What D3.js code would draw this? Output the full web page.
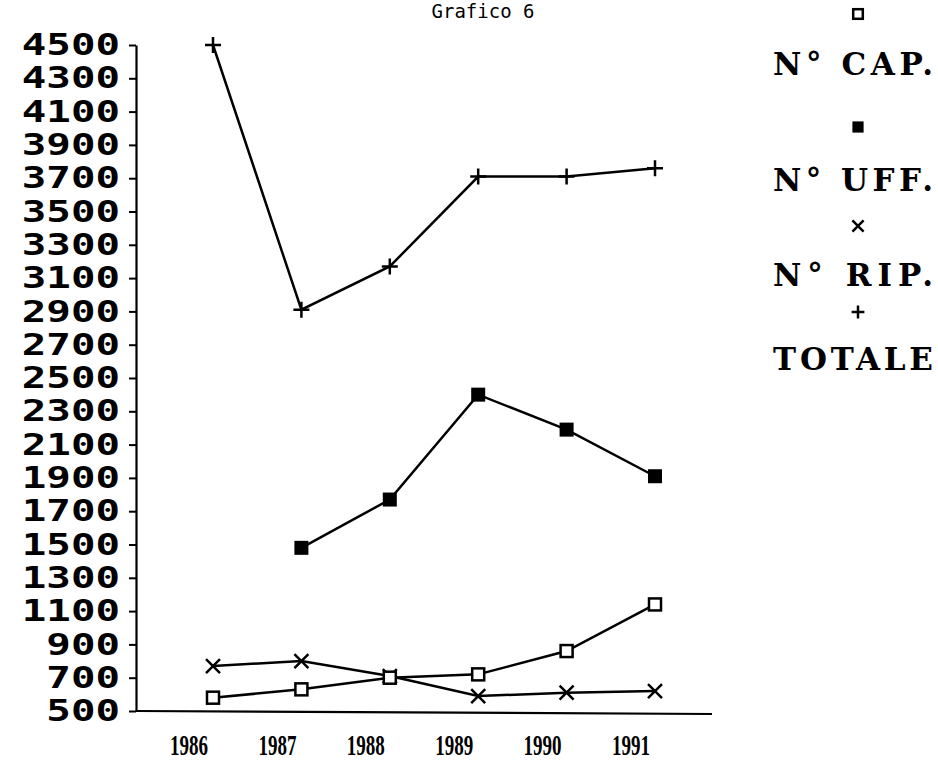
<!DOCTYPE html>
<html>
<head>
<meta charset="utf-8">
<script src="https://cdn.jsdelivr.net/npm/d3@7"></script>
<style>
  body { margin: 0; background: #fff; }
  svg { display: block; }
</style>
</head>
<body>
<div class="chart-container"></div>
<script>
// The data
const years = ["1986", "1987", "1988", "1989", "1990", "1991"];
const cap = [580, 630, 700, 720, 860, 1140];
const uff = [null, 1480, 1770, 2400, 2190, 1910];
const rip = [770, 800, 710, 590, 610, 620];
const totale = [4500, 2910, 3170, 3710, 3710, 3760];
const yTicks = d3.range(500, 4501, 200);
const legendLabels = ["N\u00B0 CAP.", "N\u00B0 UFF.", "N\u00B0 RIP.", "TOTALE"];

let svg = d3.select(".chart-container").append("svg").attr("width", 938).attr("height", 761);

// scales
let x = d3.scalePoint().domain(years).range([213, 655]);
let y = d3.scaleLinear().domain([500, 4500]).range([711, 45]);

// title
svg.append("text")
  .attr("x", 483).attr("y", 18)
  .attr("text-anchor", "middle")
  .style("font-family", "DejaVu Sans Mono")
  .style("font-size", "19px")
  .text("Grafico 6");

// y axis
let yAxis = svg.append("g")
  .attr("transform", "translate(136,0)")
  .call(d3.axisLeft(y).tickValues(yTicks).tickSize(7).tickSizeOuter(0).tickFormat(d3.format("d")));
yAxis.select(".domain").attr("stroke-width", 2.2);
yAxis.selectAll(".tick line").attr("stroke-width", 2);
yAxis.selectAll(".tick text")
  .attr("x", -16 / 1.36)
  .attr("transform", "scale(1.36,1)")
  .style("font-family", "DejaVu Sans Mono")
  .style("font-weight", "bold")
  .style("font-size", "30px");

// x baseline
svg.append("line")
  .attr("x1", 136).attr("x2", 712)
  .attr("y1", y(500)).attr("y2", y(500) + 3)
  .attr("stroke", "black").attr("stroke-width", 2.2);

// x labels
svg.append("g").selectAll("text")
  .data(years)
  .enter()
  .append("text")
  .attr("x", d => x(d) - 24)
  .attr("y", 755)
  .attr("text-anchor", "middle")
  .style("font-family", "Liberation Serif")
  .style("font-weight", "bold")
  .style("font-size", "30px")
  .attr("textLength", 38)
  .attr("lengthAdjust", "spacingAndGlyphs")
  .text(d => d);

// markers
function marker(type, g, k) {
  k = k || 1;
  if (type === "cap") {
    g.append("rect").attr("x", -6 * k).attr("y", -6 * k).attr("width", 12 * k).attr("height", 12 * k)
      .attr("fill", "white").attr("stroke", "black").attr("stroke-width", 2.5);
  } else if (type === "uff") {
    g.append("rect").attr("x", -7 * k).attr("y", -7 * k).attr("width", 14 * k).attr("height", 14 * k)
      .attr("fill", "black");
  } else if (type === "rip") {
    g.append("path").attr("d", "M" + (-7 * k) + "," + (-7 * k) + "L" + (7 * k) + "," + (7 * k) + "M" + (-7 * k) + "," + (7 * k) + "L" + (7 * k) + "," + (-7 * k))
      .attr("stroke", "black").attr("stroke-width", 2.5);
  } else {
    g.append("path").attr("d", "M" + (-8 * k) + ",0L" + (8 * k) + ",0M0," + (-8 * k) + "L0," + (8 * k))
      .attr("stroke", "black").attr("stroke-width", 2.5);
  }
}

let series = [
  { key: "rip", values: rip },
  { key: "cap", values: cap },
  { key: "uff", values: uff },
  { key: "tot", values: totale }
];

let line = d3.line()
  .defined(d => d.v != null)
  .x(d => x(d.year))
  .y(d => y(d.v));

series.forEach(s => {
  let pts = years.map((yr, i) => ({ year: yr, v: s.values[i] }));
  svg.append("path")
    .datum(pts)
    .attr("d", line)
    .attr("fill", "none")
    .attr("stroke", "black")
    .attr("stroke-width", 2.5);
  svg.append("g").selectAll("g")
    .data(pts.filter(d => d.v != null))
    .enter()
    .append("g")
    .attr("transform", d => "translate(" + x(d.year) + "," + y(d.v) + ")")
    .each(function () { marker(s.key, d3.select(this)); });
});

// legend
let legendKeys = ["cap", "uff", "rip", "tot"];
let legendSymY = [14, 127, 226, 312];
let legendTextY = [75, 191, 286, 370];
legendKeys.forEach((k, i) => {
  let g = svg.append("g").attr("transform", "translate(858," + legendSymY[i] + ")");
  marker(k, g, 0.8);
  svg.append("text")
    .attr("x", 853).attr("y", legendTextY[i])
    .attr("text-anchor", "middle")
    .style("font-family", "DejaVu Serif")
    .style("font-weight", "bold")
    .style("font-size", "31px")
    .attr("textLength", 160)
    .attr("lengthAdjust", "spacing")
    .text(legendLabels[i]);
});
</script>
</body>
</html>
